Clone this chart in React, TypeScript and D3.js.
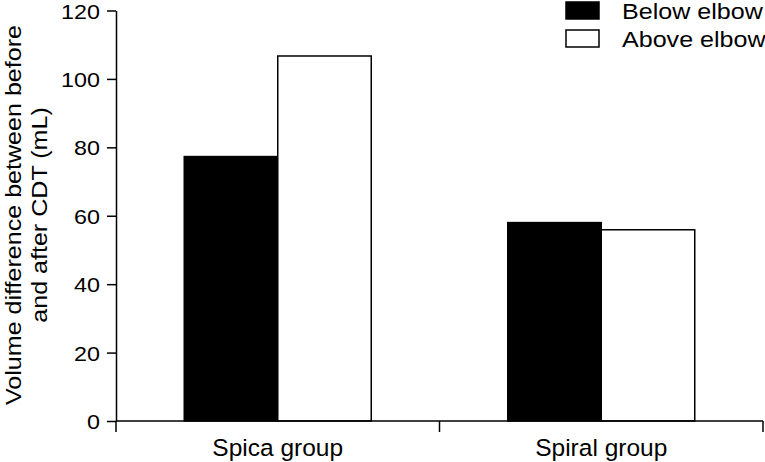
import React, { useRef, useEffect } from "react";
import * as d3 from "d3";

const groups = ["Spica group", "Spiral group"];
const seriesNames = ["Below elbow", "Above elbow"];
const belowElbow = [77.3, 58.0];
const aboveElbow = [106.7, 55.9];
const yTicks = [0, 20, 40, 60, 80, 100, 120];

// the original text is a little wider than Arial at its height
const stretch = (sel: any, k: number) => {
  sel.each(function (this: any) {
    const w = this.getComputedTextLength();
    d3.select(this).attr("textLength", w * k).attr("lengthAdjust", "spacingAndGlyphs");
  });
};

const App = () => {
  const ref = useRef<SVGSVGElement>(null);

  useEffect(() => {
    const svg = d3.select(ref.current);
    svg.selectAll("*").remove();

    const left = 116, right = 763, top = 10.5, bottom = 421;
    const font = "'Liberation Sans', Arial, sans-serif";

    const x = d3.scaleBand().domain(groups).range([left, right]).padding(0);
    const inner = d3.scaleBand().domain(seriesNames).range([0, x.bandwidth()])
      .paddingInner(0).paddingOuter(0.73);
    const y = d3.scaleLinear().domain([0, 120]).range([bottom, top]);
    const fills = ["#000", "#fff"];

    const rows = groups.map((g, i) => ({ g, vals: [belowElbow[i], aboveElbow[i]] }));

    rows.forEach((r) => {
      r.vals.forEach((v, j) => {
        svg.append("rect")
          .attr("x", x(r.g)! + inner(seriesNames[j])!)
          .attr("y", y(v))
          .attr("width", inner.bandwidth())
          .attr("height", bottom - y(v))
          .attr("fill", fills[j])
          .attr("stroke", "#000")
          .attr("stroke-width", 1.5);
      });
    });

    // y axis
    const yAxis = svg.append("g").attr("transform", `translate(${left},0)`)
      .call(d3.axisLeft(y).tickValues(yTicks).tickSize(9).tickPadding(7).tickSizeOuter(0));
    yAxis.select(".domain").attr("stroke", "#000").attr("stroke-width", 1.5);
    yAxis.selectAll(".tick line").attr("stroke-width", 1.5);
    const yt = yAxis.selectAll("text").attr("font-family", font).attr("font-size", 21)
      .attr("fill", "#000").attr("dy", "0.36em");
    stretch(yt, 1.11);

    // x axis
    svg.append("line").attr("x1", left).attr("x2", right).attr("y1", bottom).attr("y2", bottom)
      .attr("stroke", "#000").attr("stroke-width", 1.5);
    const edges = [left, x(groups[1])!, right];
    edges.forEach((e) => {
      svg.append("line").attr("x1", e).attr("x2", e).attr("y1", bottom).attr("y2", bottom + 11)
        .attr("stroke", "#000").attr("stroke-width", 1.5);
    });
    groups.forEach((g) => {
      svg.append("text")
        .attr("x", x(g)! + x.bandwidth() / 2)
        .attr("y", 456)
        .attr("text-anchor", "middle")
        .attr("font-family", font)
        .attr("font-size", 24.5)
        .text(g);
    });

    // y label
    const yl = svg.append("text")
      .attr("transform", `translate(21,215) rotate(-90)`)
      .attr("text-anchor", "middle")
      .attr("font-family", font)
      .attr("font-size", 22);
    const l1 = yl.append("tspan").attr("x", 0).attr("dy", 0).text("Volume difference between before");
    const l2 = yl.append("tspan").attr("x", 0).attr("dy", 26).text("and after CDT (mL)");
    const k = 380 / (l1.node() as any).getComputedTextLength();
    stretch(l1, k);
    stretch(l2, k);

    // legend
    seriesNames.forEach((s, j) => {
      const ly = 2 + j * 28;
      svg.append("rect").attr("x", 566).attr("y", ly).attr("width", 33).attr("height", 17)
        .attr("fill", fills[j]).attr("stroke", "#000").attr("stroke-width", 1.5);
      const t = svg.append("text").attr("x", 622).attr("y", ly + 16.5)
        .attr("font-family", font).attr("font-size", 22).text(s);
      stretch(t, 1.14);
    });
  }, []);

  return (
    <svg ref={ref} width={765} height={462}
      style={{ position: "absolute", left: 0, top: 0, background: "#fff" }} />
  );
};

export default App;
